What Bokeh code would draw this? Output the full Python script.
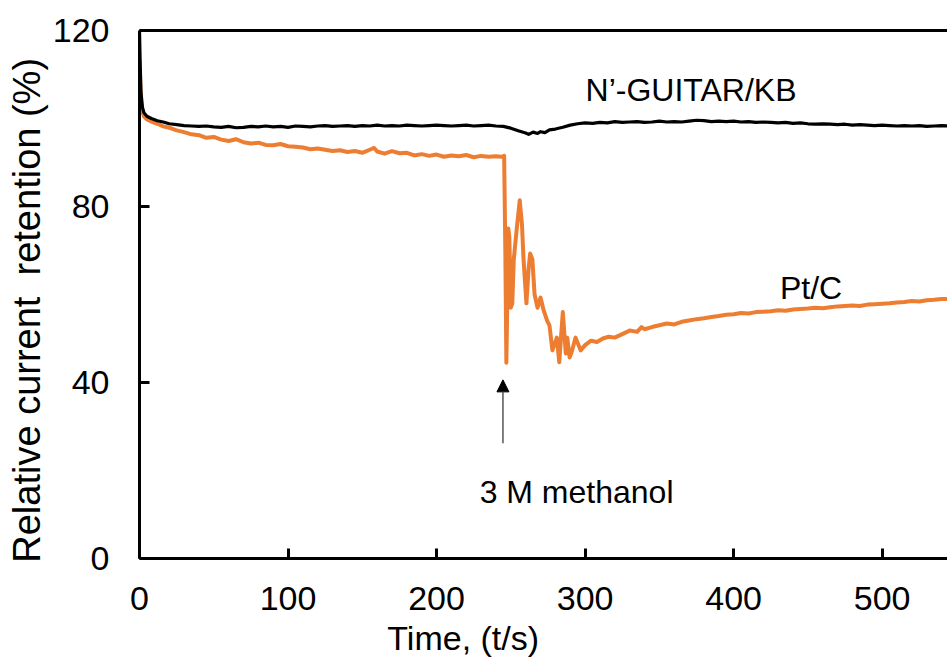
from bokeh.plotting import figure
from bokeh.models import Range1d, LinearAxis, FixedTicker, Label, Arrow, NormalHead
from bokeh.embed import file_html
from bokeh.resources import INLINE

# N'-GUITAR/KB series
t_guitar = [0, 0.5, 1, 2, 3, 5, 8, 12, 16, 20, 25, 30, 35, 40, 45, 50, 55, 60, 65, 70, 75, 80, 85, 90, 95,
            100, 105, 110, 115, 120, 125, 130, 135, 140, 145, 150, 155, 160, 165, 170, 175, 180, 185, 190, 195,
            200, 205, 210, 215, 220, 225, 230, 235, 240, 245, 250, 255, 260, 262, 265, 268, 270, 273, 276, 280,
            285, 290, 295, 300, 305, 310, 315, 320, 325, 330, 335, 340, 345, 350, 355, 360, 365, 370, 375, 380,
            385, 390, 395, 400, 405, 410, 415, 420, 425, 430, 435, 440, 445, 450, 455, 460, 465, 470, 475, 480,
            485, 490, 495, 500, 505, 510, 515, 520, 525, 530, 535, 540, 545]
r_guitar = [120, 112, 106, 102.5, 101.3, 100.5, 100.0, 99.5, 99.2, 98.8, 98.6, 98.4, 98.3, 98.2, 98.3, 98.1, 98.0, 98.2, 97.9, 98.0, 98.2, 98.1, 98.3, 98.1, 98.2,
            98.0, 98.3, 98.2, 98.1, 98.3, 98.4, 98.2, 98.3, 98.4, 98.2, 98.4, 98.3, 98.5, 98.3, 98.4, 98.3, 98.5, 98.4, 98.3, 98.4,
            98.5, 98.4, 98.3, 98.4, 98.5, 98.3, 98.4, 98.5, 98.3, 98.2, 97.8, 97.2, 96.7, 96.4, 96.9, 96.6, 97.0, 96.8, 97.4, 97.6,
            98.0, 98.5, 98.8, 99.0, 98.9, 99.1, 99.0, 99.3, 99.1, 99.2, 99.3, 99.1, 99.2, 99.4, 99.2, 99.3, 99.2, 99.4, 99.6, 99.5,
            99.3, 99.4, 99.3, 99.4, 99.2, 99.3, 99.1, 99.2, 99.1, 99.0, 99.1, 98.9, 99.0, 98.8, 98.7, 98.8, 98.7, 98.6, 98.7, 98.5,
            98.6, 98.5, 98.4, 98.5, 98.4, 98.3, 98.4, 98.3, 98.4, 98.2, 98.3, 98.4, 98.3]

# Pt/C series
t_ptc = [0, 0.5, 1, 2, 3, 5, 8, 12, 16, 20, 25, 30, 35, 40, 45, 50, 55, 60, 65, 70, 75, 80, 85, 90, 95,
         100, 105, 110, 115, 120, 125, 130, 135, 140, 145, 150, 155, 158, 160, 165, 170, 175, 180, 185, 190, 195,
         200, 205, 210, 215, 220, 225, 230, 235, 240, 244, 245.5, 246.3, 247, 247.7, 248.3, 249, 250, 251, 252,
         254, 256, 257.5, 258.5, 260.5, 262, 263, 264.5, 266, 268, 270, 272, 274.5, 276, 278, 281, 282.6, 285,
         287, 288, 289.6, 291, 293.6, 297, 300, 304, 308, 312, 316, 320, 325, 330, 335, 338, 340, 345, 350, 355,
         360, 365, 370, 375, 380, 385, 390, 395, 400, 405, 410, 415, 420, 425, 430, 435, 440, 445, 450, 455, 460,
         465, 470, 475, 480, 485, 490, 495, 500, 505, 510, 515, 520, 525, 530, 535, 540, 545]
r_ptc = [113, 108, 104, 101.5, 100.5, 99.8, 99.3, 98.8, 98.2, 97.9, 97.3, 96.9, 96.4, 96.2, 95.6, 95.8, 95.2, 94.9, 95.3, 94.6, 94.3, 94.5, 94.0, 93.9, 94.2,
         93.7, 93.6, 93.4, 93.0, 93.2, 92.9, 92.6, 92.8, 92.4, 92.6, 92.2, 92.9, 93.3, 92.5, 92.0, 92.6, 92.1, 92.2, 91.6, 91.9, 91.5,
         91.8, 91.3, 91.6, 91.4, 91.7, 91.2, 91.5, 91.3, 91.4, 91.3, 91.5, 70, 44.5, 60, 75, 73, 57, 58, 68,
         75, 81.4, 76, 68.4, 58, 66, 69.3, 68, 60, 57, 59.3, 56.5, 54, 53, 47.3, 50.2, 44.6, 56,
         46.6, 50.2, 45.7, 47, 50.2, 47.3, 48.5, 49.5, 49.2, 50.0, 50.4, 50.2, 51.0, 51.8, 51.5, 52.6, 52.1, 52.6, 53.0, 53.4,
         53.2, 53.8, 54.1, 54.4, 54.6, 54.9, 55.1, 55.4, 55.5, 55.8, 55.7, 56.0, 56.1, 56.2, 56.4, 56.3, 56.6, 56.7, 56.8, 57.0, 56.9,
         57.1, 57.3, 57.4, 57.5, 57.4, 57.7, 57.8, 57.9, 58.0, 58.2, 58.3, 58.5, 58.4, 58.7, 58.8, 59.0, 59.0]

x_ticks = [0, 100, 200, 300, 400, 500]
y_ticks = [0, 40, 80, 120]

FONT = "Liberation Sans"

p = figure(width=947, height=664, output_backend="svg", toolbar_location=None,
           x_range=Range1d(0, 544), y_range=Range1d(0, 120),
           min_border_left=139, min_border_top=30, min_border_right=0, min_border_bottom=106)
p.grid.visible = False
p.outline_line_color = None
p.background_fill_color = "white"
p.border_fill_color = "white"

for ax in (p.xaxis[0], p.yaxis[0]):
    ax.axis_line_width = 3
    ax.axis_line_color = "black"
    ax.major_tick_line_width = 3
    ax.major_tick_line_color = "black"
    ax.major_tick_in = 10
    ax.major_tick_out = 0
    ax.minor_tick_line_color = None
    ax.major_label_text_font = FONT
    ax.major_label_text_font_size = "34px"
    ax.major_label_text_color = "black"
    ax.axis_label_text_font = FONT
    ax.axis_label_text_font_style = "normal"
    ax.axis_label_text_color = "black"

p.xaxis.ticker = FixedTicker(ticks=x_ticks)
p.yaxis.ticker = FixedTicker(ticks=y_ticks)
p.xaxis.major_label_standoff = 28
p.yaxis.major_label_standoff = 30
p.yaxis.axis_label = "Relative current\u00a0 retention (%)" + "\u00a0" * 3
p.yaxis.axis_label_text_font_size = "38px"
p.yaxis.axis_label_standoff = 2
# the reference's x title sits left of the frame centre; pad it on the right
p.xaxis.axis_label = "Time, (t/s)" + "\u00a0" * 17
p.xaxis.axis_label_text_font_size = "34px"
p.xaxis.axis_label_standoff = 6

top = LinearAxis(ticker=FixedTicker(ticks=[]), axis_line_width=3, axis_line_color="black",
                 major_tick_in=0, major_tick_out=0, minor_tick_line_color=None,
                 major_label_text_font_size="0px")
p.add_layout(top, "above")

p.line(t_ptc, r_ptc, line_color="#ED7D31", line_width=4, line_join="round")
p.line(t_guitar, r_guitar, line_color="black", line_width=3.2, line_join="round")

def lab(x, y, text):
    l = Label(x=x, y=y, text=text, text_font=FONT, text_font_size="32px", text_color="black",
              text_align="left", text_baseline="alphabetic")
    p.add_layout(l)

lab(300.3, 106.5, "N\u2019-GUITAR/KB")
lab(431.2, 61.5, "Pt/C")
lab(229.0, 15.1, "3 M methanol")

p.add_layout(Arrow(end=NormalHead(size=12, fill_color="black", line_color="black"),
                   x_start=244.7, y_start=26.2, x_end=244.7, y_end=40.6,
                   line_color="#555555", line_width=1.5))

open("out.html", "w").write(file_html(p, INLINE))
